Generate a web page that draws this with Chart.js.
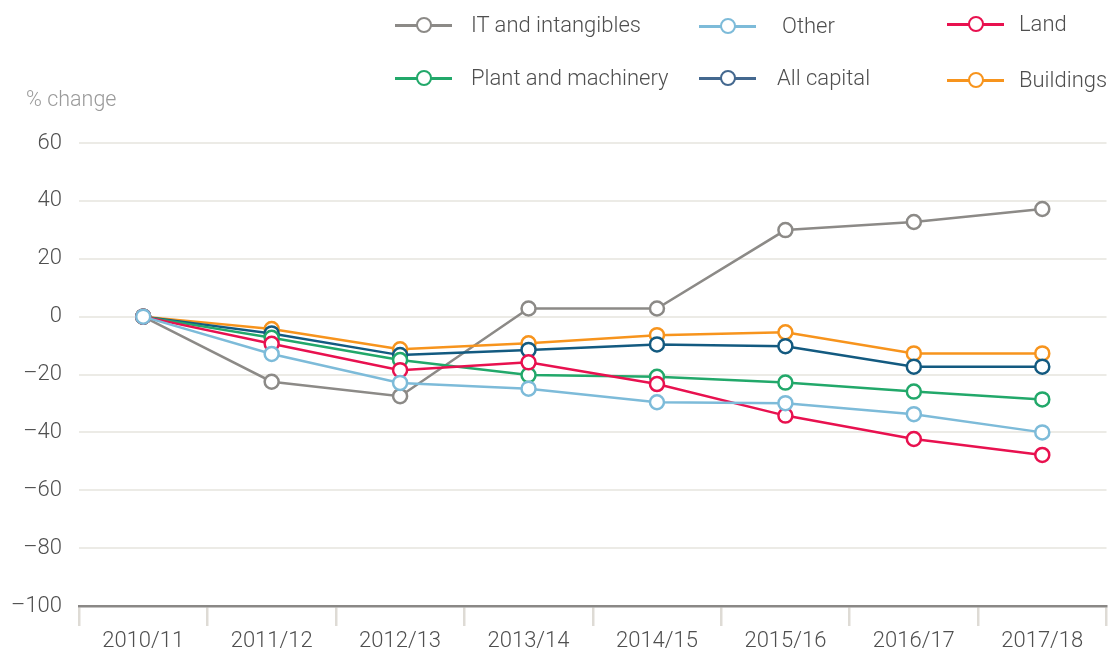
<!DOCTYPE html>
<html>
<head>
<meta charset="utf-8">
<script src="https://cdn.jsdelivr.net/npm/chart.js@4/dist/chart.umd.min.js"></script>
<style>
  body { margin:0; background:#fff; font-family: Roboto, "Liberation Sans", sans-serif; font-weight:300; }
  #wrap { position:relative; width:1116px; height:656px; }
  #chart { position:absolute; left:0; top:0; }
  .unit { position:absolute; left:26px; top:86px; font-size:21.5px; color:#9a9a9a; }
  .leg { position:absolute; font-size:22px; color:#4f4f4f; white-space:nowrap; line-height:26px; }
  .sym { position:absolute; width:57px; height:3px; }
  .sym i { position:absolute; left:21px; top:-7px; width:12px; height:12px; border-radius:50%; background:#fff; border:2.5px solid; }
</style>
</head>
<body>
<div id="wrap">
  <canvas id="chart" width="1116" height="656"></canvas>
  <div class="unit">% change</div>
  <div id="legend"></div>
</div>
<script>
const labels = ['2010/11','2011/12','2012/13','2013/14','2014/15','2015/16','2016/17','2017/18'];

const itIntangibles = [0, -22.5, -27.5, 2.8, 2.8, 29.9, 32.7, 37.2];
const other         = [0, -12.9, -22.9, -24.9, -29.6, -29.9, -33.7, -40.0];
const land          = [0, -9.4, -18.5, -15.8, -23.3, -34.2, -42.3, -47.8];
const plant         = [0, -7.3, -15.0, -20.2, -20.8, -22.8, -25.9, -28.6];
const allCapital    = [0, -5.8, -13.3, -11.5, -9.6, -10.2, -17.3, -17.3];
const buildings     = [0, -4.3, -11.3, -9.2, -6.4, -5.4, -12.7, -12.7];

const yTicks = [60, 40, 20, 0, -20, -40, -60, -80, -100];

const series = [
  { name:'IT and intangibles',  data:itIntangibles, color:'#8c8a87', order:5, legColor:'#8c8a87', sx:395, tx:471, y:25 },
  { name:'Other',               data:other,         color:'#7dbbd9', order:0, legColor:'#7dbbd9', sx:699, tx:782, y:26 },
  { name:'Land',                data:land,          color:'#e8114f', order:1, legColor:'#e8114f', sx:947, tx:1019, y:24 },
  { name:'Plant and machinery', data:plant,         color:'#22a86a', order:2, legColor:'#22a86a', sx:395, tx:471, y:78 },
  { name:'All capital',         data:allCapital,    color:'#135a80', order:3, legColor:'#44688f', sx:699, tx:777, y:78 },
  { name:'Buildings',           data:buildings,     color:'#f7941d', order:4, legColor:'#f7941d', sx:947, tx:1019, y:80 }
];

// html legend, 3 columns x 2 rows
const leg = document.getElementById('legend');
series.forEach(s => {
  const sym = document.createElement('div');
  sym.className = 'sym';
  sym.style.left = s.sx + 'px';
  sym.style.top = (s.y - 1) + 'px';
  sym.style.background = s.legColor;
  sym.innerHTML = `<i style="border-color:${s.legColor}"></i>`;
  leg.appendChild(sym);
  const t = document.createElement('div');
  t.className = 'leg';
  t.style.left = s.tx + 'px';
  t.style.top = (s.y - 13) + 'px';
  t.textContent = s.name;
  leg.appendChild(t);
});

const tickFont = { family:'Roboto, "Liberation Sans", sans-serif', size:22, weight:300 };

new Chart(document.getElementById('chart'), {
  type:'line',
  data:{
    labels,
    datasets: series.map(s => ({
      label:s.name, data:s.data, order:s.order,
      borderColor:s.color, backgroundColor:'#fff',
      borderWidth:2.5, pointRadius:7, pointBorderWidth:2.5,
      pointBackgroundColor:'#fff', pointBorderColor:s.color, tension:0
    }))
  },
  options:{
    responsive:false, animation:false,
    layout:{ padding:{ top:143, right:6, left:0, bottom:0 } },
    plugins:{ legend:{ display:false }, tooltip:{ enabled:false } },
    scales:{
      x:{
        offset:true,
        afterFit: sc => { sc.height = 50; sc.paddingLeft = 0; sc.paddingRight = 0; },
        grid:{ offset:true, drawOnChartArea:false, drawTicks:true, tickLength:20, tickColor:'#dedbd5', lineWidth:2.5 },
        border:{ display:true, color:'#8a8886', width:2.5 },
        ticks:{ color:'#4f4f4f', font:tickFont, padding:2, maxRotation:0 }
      },
      y:{
        min:-100, max:60,
        afterFit: sc => { sc.width = 79; },
        afterBuildTicks: sc => { sc.ticks = yTicks.map(v => ({ value:v })); },
        grid:{ color:'#ecebe6', lineWidth:2, drawTicks:false },
        border:{ display:false },
        ticks:{ color:'#4f4f4f', font:tickFont, padding:17,
          callback: v => String(v).replace('-', '\u2013') }
      }
    }
  }
});
</script>
</body>
</html>
